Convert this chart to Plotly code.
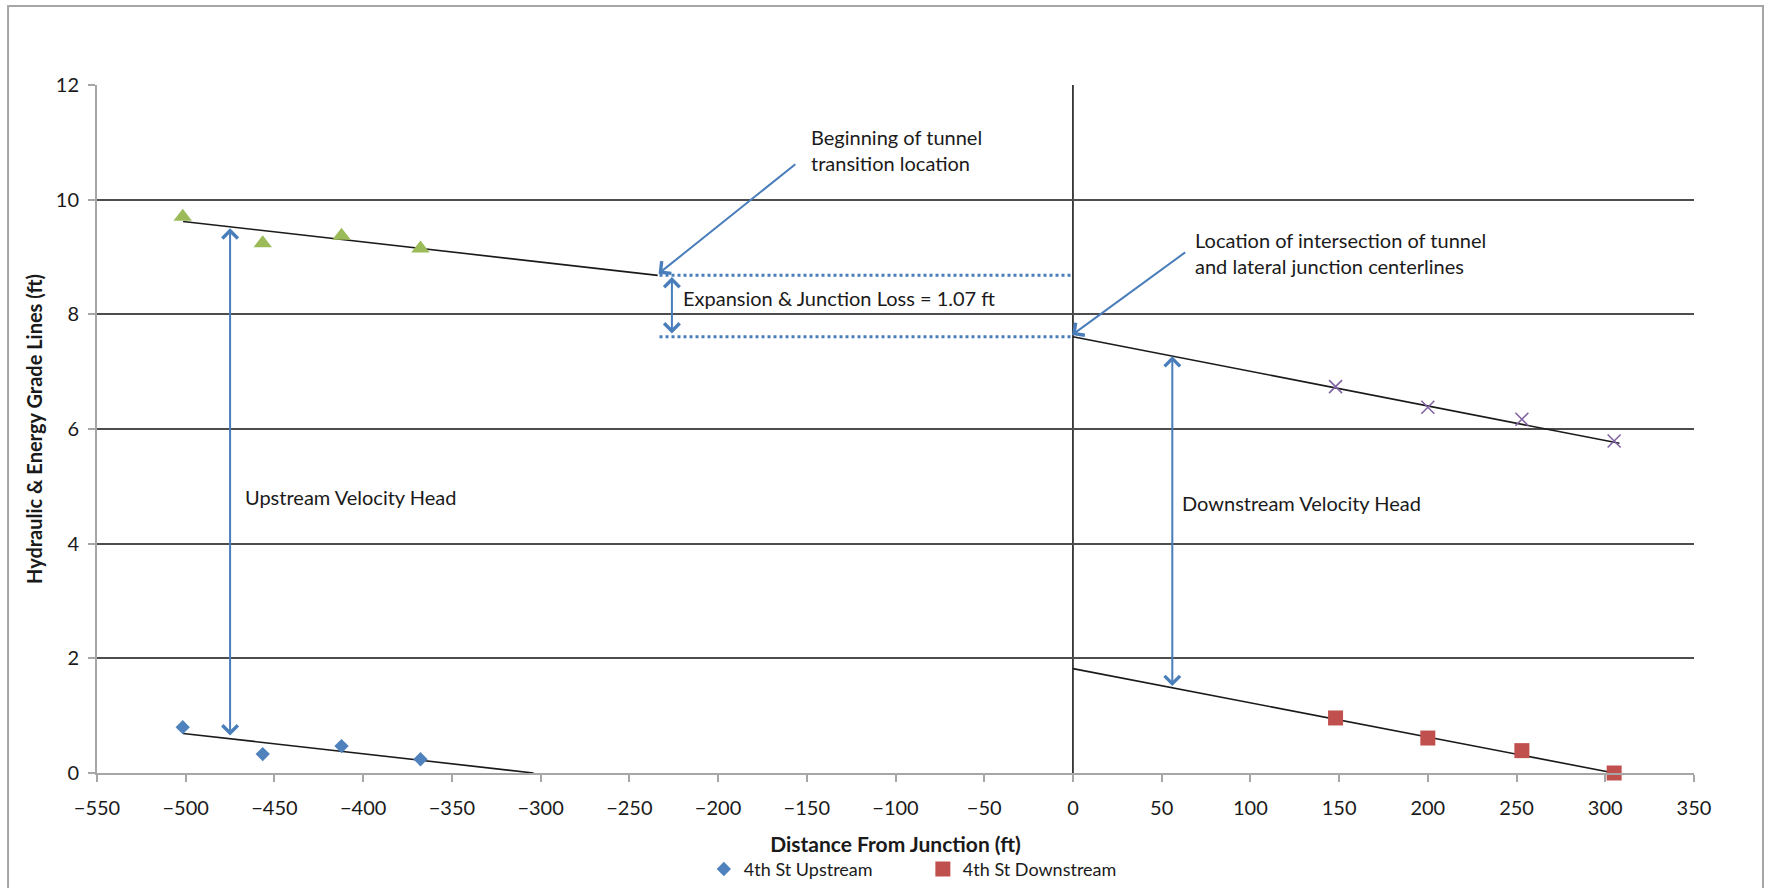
import plotly.graph_objects as go

# Measured profile points (distance from junction in ft, elevation in ft)
us_x = [-501.7, -456.6, -412.2, -367.7]
us_egl_y = [9.70, 9.24, 9.37, 9.15]
us_hgl_y = [0.80, 0.33, 0.47, 0.24]

ds_x = [148, 200, 253, 305]
ds_egl_y = [6.74, 6.38, 6.17, 5.79]
ds_hgl_y = [0.96, 0.61, 0.39, 0.00]

# Fitted grade lines (end points)
us_egl_fit_x = [-501.5, -234.0]
us_egl_fit_y = [9.62, 8.68]
us_hgl_fit_x = [-501.5, -304.0]
us_hgl_fit_y = [0.69, 0.00]
ds_egl_fit_x = [0.0, 308.0]
ds_egl_fit_y = [7.61, 5.75]
ds_hgl_fit_x = [0.0, 305.0]
ds_hgl_fit_y = [1.82, 0.00]

# Head values used by the dimension arrows
loss_x = -226
egl_transition = 8.68
egl_junction = 7.61
us_vh_x = -475
us_vh_top, us_vh_bottom = 9.50, 0.63
ds_vh_x = 56
ds_vh_top, ds_vh_bottom = 7.27, 1.49

x_ticks = list(range(-550, 351, 50))
y_ticks = list(range(0, 13, 2))

GREEN = "#9bbb59"
BLUE = "#4f81bd"
RED = "#c0504d"
PURPLE = "#8064a2"
ARROW = "#4a7ebb"
FONT = "Lato, 'Open Sans', sans-serif"
TXT = "#1a1a1a"

fig = go.Figure()

# Trend lines
for fx, fy in [(us_egl_fit_x, us_egl_fit_y), (us_hgl_fit_x, us_hgl_fit_y),
               (ds_egl_fit_x, ds_egl_fit_y), (ds_hgl_fit_x, ds_hgl_fit_y)]:
    fig.add_trace(go.Scatter(x=fx, y=fy, mode="lines", showlegend=False,
                             line=dict(color="#1a1a1a", width=1.6), hoverinfo="skip"))

fig.add_trace(go.Scatter(x=us_x, y=us_hgl_y, mode="markers", name="4th St Upstream",
                         marker=dict(symbol="diamond", size=11, color=BLUE), cliponaxis=False))
fig.add_trace(go.Scatter(x=ds_x, y=ds_hgl_y, mode="markers", name="4th St Downstream",
                         marker=dict(symbol="square", size=15, color=RED), cliponaxis=False))
fig.add_trace(go.Scatter(x=us_x, y=us_egl_y, mode="markers", name="4th St Upstream EGL",
                         showlegend=False,
                         marker=dict(symbol="triangle-up", size=16, color=GREEN), cliponaxis=False))
fig.add_trace(go.Scatter(x=ds_x, y=ds_egl_y, mode="markers", name="4th St Downstream EGL",
                         showlegend=False,
                         marker=dict(symbol="x-thin-open", size=13, color=PURPLE,
                                     line=dict(color=PURPLE, width=1.6)), cliponaxis=False))

shapes = [
    # junction centerline
    dict(type="line", xref="x", yref="y", x0=0, x1=0, y0=0, y1=12,
         line=dict(color="#1a1a1a", width=1.6), layer="below"),
    # dotted reference levels for the loss
    dict(type="line", xref="x", yref="y", x0=-233, x1=-1, y0=egl_transition, y1=egl_transition,
         line=dict(color=ARROW, width=3, dash="dot")),
    dict(type="line", xref="x", yref="y", x0=-233, x1=-1, y0=egl_junction, y1=egl_junction,
         line=dict(color=ARROW, width=3, dash="dot")),
    # chart border
    dict(type="rect", xref="paper", yref="paper", x0=-0.0557, x1=1.0432, y0=-0.25, y1=1.1148,
         line=dict(color="#a6a6a6", width=2), layer="below"),
]


def arrow(x, y, ax, ay, both=False):
    return dict(x=x, y=y, ax=ax, ay=ay, xref="x", yref="y", axref="x", ayref="y",
                text="", showarrow=True, arrowhead=4, arrowsize=1.5, arrowwidth=2,
                arrowcolor=ARROW, standoff=0, startstandoff=0,
                arrowside="end+start" if both else "end", startarrowhead=4,
                startarrowsize=1.5)


def label(x, y, text):
    return dict(x=x, y=y, xref="x", yref="y", text=text, showarrow=False,
                xanchor="left", yanchor="middle", align="left",
                font=dict(family=FONT, size=20, color=TXT))


annotations = [
    arrow(-233.5, 8.71, -155.6, 10.64),
    arrow(-0.5, 7.64, 64.1, 9.10),
    arrow(loss_x, egl_transition - 0.03, loss_x, egl_junction + 0.03, both=True),
    arrow(us_vh_x, us_vh_top, us_vh_x, us_vh_bottom, both=True),
    arrow(ds_vh_x, ds_vh_top, ds_vh_x, ds_vh_bottom, both=True),
    label(-148.5, 10.87, "Beginning of tunnel<br>transition location"),
    label(-220.8, 8.28, "Expansion &amp; Junction Loss = 1.07 ft"),
    label(67.9, 9.07, "Location of intersection of tunnel<br>and lateral junction centerlines"),
    label(-468, 4.81, "Upstream Velocity Head"),
    label(60.4, 4.71, "Downstream Velocity Head"),
]

fig.update_layout(
    width=1767, height=888,
    margin=dict(l=97, r=73, t=85, b=115, autoexpand=False),
    paper_bgcolor="white", plot_bgcolor="white",
    font=dict(family=FONT, size=18, color=TXT),
    shapes=shapes, annotations=annotations,
    legend=dict(orientation="h", x=0.380, xanchor="left", y=-0.14, yanchor="middle",
                font=dict(family=FONT, size=18, color=TXT), itemwidth=30,
                entrywidth=174, entrywidthmode="pixels",
                bgcolor="rgba(0,0,0,0)"),
    xaxis=dict(range=[-550, 350], tickvals=x_ticks, ticks="outside", ticklen=7,
               tickcolor="#a6a6a6", tickwidth=2, showline=True, linecolor="#a6a6a6",
               linewidth=2, showgrid=False, zeroline=False, automargin=False,
               ticklabelstandoff=9,
               tickfont=dict(family=FONT, size=20, color=TXT),
               title=dict(text="<b>Distance From Junction (ft)</b>",
                          font=dict(family=FONT, size=21, color=TXT), standoff=19)),
    yaxis=dict(range=[0, 12], tickvals=y_ticks, ticks="outside", ticklen=7,
               tickcolor="#a6a6a6", tickwidth=2, showline=True, linecolor="#a6a6a6",
               linewidth=2, showgrid=True, gridcolor="#4d4d4d", gridwidth=2,
               zeroline=False, ticklabelstandoff=5, automargin=False,
               tickfont=dict(family=FONT, size=20, color=TXT),
               title=dict(text="<b>Hydraulic &amp; Energy Grade Lines (ft)</b>",
                          font=dict(family=FONT, size=20, color=TXT), standoff=8)),
)

fig.write_html("out.html")
